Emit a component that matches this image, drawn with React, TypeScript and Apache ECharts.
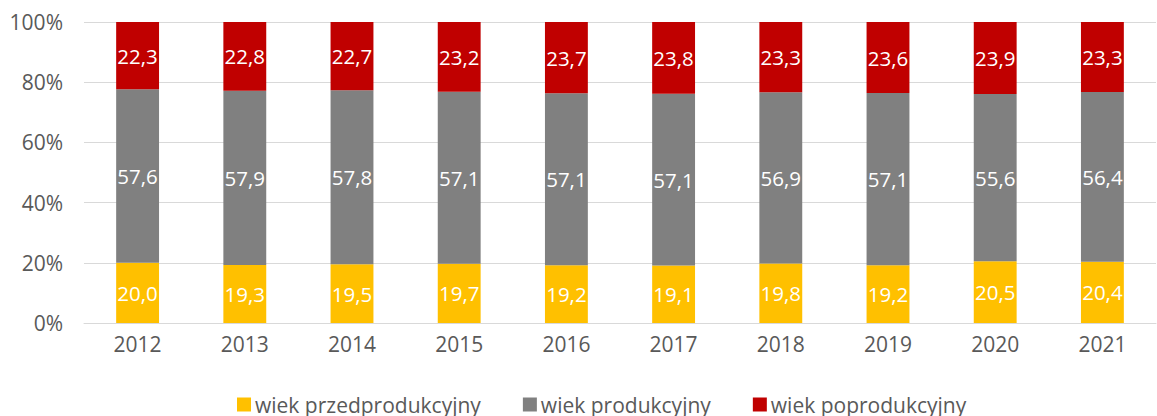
import React, { useEffect, useRef } from "react";
import * as echarts from "echarts";

const years = ["2012", "2013", "2014", "2015", "2016", "2017", "2018", "2019", "2020", "2021"];
const przed = [20.0, 19.3, 19.5, 19.7, 19.2, 19.1, 19.8, 19.2, 20.5, 20.4];
const prod = [57.6, 57.9, 57.8, 57.1, 57.1, 57.1, 56.9, 57.1, 55.6, 56.4];
const popr = [22.3, 22.8, 22.7, 23.2, 23.7, 23.8, 23.3, 23.6, 23.9, 23.3];
const seriesNames = ["wiek przedprodukcyjny", "wiek produkcyjny", "wiek poprodukcyjny"];
const colors = ["#FFC000", "#808080", "#C00000"];

const FONT = "'Open Sans', 'Noto Sans', sans-serif";

export default function App() {
  const ref = useRef<HTMLDivElement>(null);
  useEffect(() => {
    if (!ref.current) return;
    const chart = echarts.init(ref.current, undefined, { renderer: "svg" });
    const totals = years.map((_, i) => przed[i] + prod[i] + popr[i]);
    const raw = [przed, prod, popr];
    const series = raw.map((arr, si) => ({
      name: seriesNames[si],
      type: "bar" as const,
      stack: "total",
      barWidth: "40%",
      itemStyle: { color: colors[si] },
      label: {
        show: true,
        position: "inside" as const,
        color: "#ffffff",
        fontSize: 20.5,
        fontFamily: FONT,
        formatter: (p: any) => arr[p.dataIndex].toFixed(1).replace(".", ","),
      },
      data: arr.map((v, i) => (v / totals[i]) * 100),
    }));
    chart.setOption({
      animation: false,
      textStyle: { fontFamily: FONT },
      grid: { left: 84, right: 1, top: 22, bottom: 93, containLabel: false },
      legend: {
        top: 389,
        left: 232,
        itemWidth: 14,
        itemHeight: 14,
        itemGap: 42,
        icon: "rect",
        textStyle: { color: "#595959", fontSize: 21, fontFamily: FONT, padding: [0, 0, 0, -1] },
        data: seriesNames,
      },
      xAxis: {
        type: "category",
        data: years,
        axisLine: { lineStyle: { color: "#d9d9d9", width: 1 } },
        axisTick: { show: false },
        axisLabel: { color: "#595959", fontSize: 21, fontFamily: FONT, margin: 10 },
      },
      yAxis: {
        type: "value",
        min: 0,
        max: 100,
        interval: 20,
        axisLine: { show: false },
        axisTick: { show: false },
        splitLine: { lineStyle: { color: "#d9d9d9", width: 1 } },
        axisLabel: {
          color: "#595959",
          fontSize: 21,
          fontFamily: FONT,
          margin: 21,
          formatter: (v: number) => v + "%",
        },
      },
      series,
    });
    return () => chart.dispose();
  }, []);
  return (
    <div
      ref={ref}
      style={{ position: "fixed", left: 0, top: 0, width: 1157, height: 416, background: "#fff" }}
    />
  );
}
